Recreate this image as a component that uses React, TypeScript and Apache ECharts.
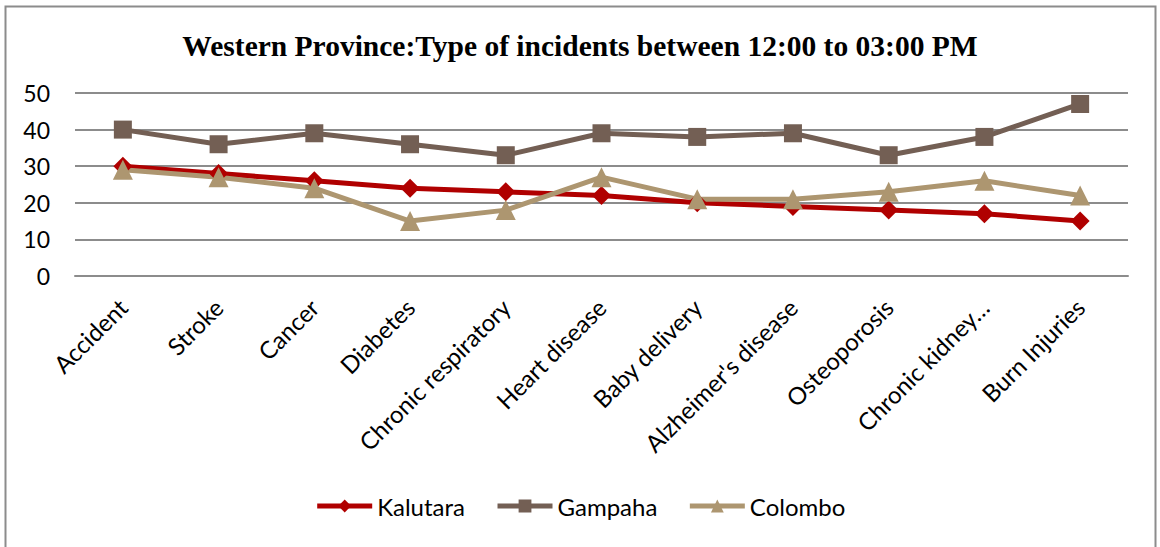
import React, { useEffect, useRef } from "react";
import * as echarts from "echarts";

const categories = [
  "Accident",
  "Stroke",
  "Cancer",
  "Diabetes",
  "Chronic respiratory",
  "Heart disease",
  "Baby delivery",
  "Alzheimer's disease",
  "Osteoporosis",
  "Chronic kidney…",
  "Burn Injuries",
];
const kalutara = [30, 28, 26, 24, 23, 22, 20, 19, 18, 17, 15];
const gampaha = [40, 36, 39, 36, 33, 39, 38, 39, 33, 38, 47];
const colombo = [29, 27, 24, 15, 18, 27, 21, 21, 23, 26, 22];
const titleText = "Western Province:Type of incidents between 12:00 to 03:00 PM";

const FONT = "Lato, 'Open Sans', sans-serif";

export default function App() {
  const ref = useRef<HTMLDivElement>(null);
  useEffect(() => {
    if (!ref.current) return;
    const chart = echarts.init(ref.current, null, { renderer: "svg" });
    const mk = (name: string, data: number[], color: string, symbol: string, size: number) => ({
      name,
      type: "line",
      data,
      symbol,
      symbolSize: size,
      color,
      lineStyle: { color, width: 5 },
      itemStyle: { color },
    });
    chart.setOption({
      animation: false,
      backgroundColor: "#fff",
      title: {
        text: titleText,
        left: "center",
        top: 26,
        textStyle: {
          fontFamily: "'Liberation Serif', 'Times New Roman', serif",
          fontWeight: "bold",
          fontSize: 29.5,
          color: "#000",
        },
      },
      graphic: [
        {
          type: "rect",
          shape: { x: 5.5, y: 6.5, width: 1150, height: 560 },
          style: { fill: "none", stroke: "#8c8c8c", lineWidth: 2 },
          silent: true,
        },
      ],
      grid: { left: 75, right: 32, top: 93, bottom: 271, containLabel: false },
      legend: {
        bottom: 24,
        left: "center",
        itemWidth: 55,
        itemHeight: 16,
        itemGap: 30,
        lineStyle: { width: 5 },
        textStyle: { fontFamily: FONT, fontSize: 24, color: "#000" },
        data: ["Kalutara", "Gampaha", "Colombo"],
      },
      xAxis: {
        type: "category",
        data: categories,
        boundaryGap: true,
        axisLine: { show: true, lineStyle: { color: "#8c8c8c", width: 2 } },
        axisTick: { show: false },
        axisLabel: {
          rotate: 45,
          margin: 27,
          interval: 0,
          fontFamily: FONT,
          fontSize: 24,
          color: "#000",
        },
      },
      yAxis: {
        type: "value",
        min: 0,
        max: 50,
        interval: 10,
        axisLine: { show: false },
        axisTick: { show: false },
        splitLine: { lineStyle: { color: "#8c8c8c", width: 2 } },
        axisLabel: {
          margin: 25,
          fontFamily: FONT,
          fontSize: 23,
          color: "#000",
        },
      },
      series: [
        mk("Kalutara", kalutara, "#b00000", "diamond", 19),
        mk("Gampaha", gampaha, "#735f54", "rect", 18),
        mk("Colombo", colombo, "#ad9670", "triangle", 20),
      ],
    });
    return () => chart.dispose();
  }, []);
  return (
    <div
      ref={ref}
      style={{ position: "fixed", left: 0, top: 0, width: 1160, height: 547 }}
    />
  );
}
